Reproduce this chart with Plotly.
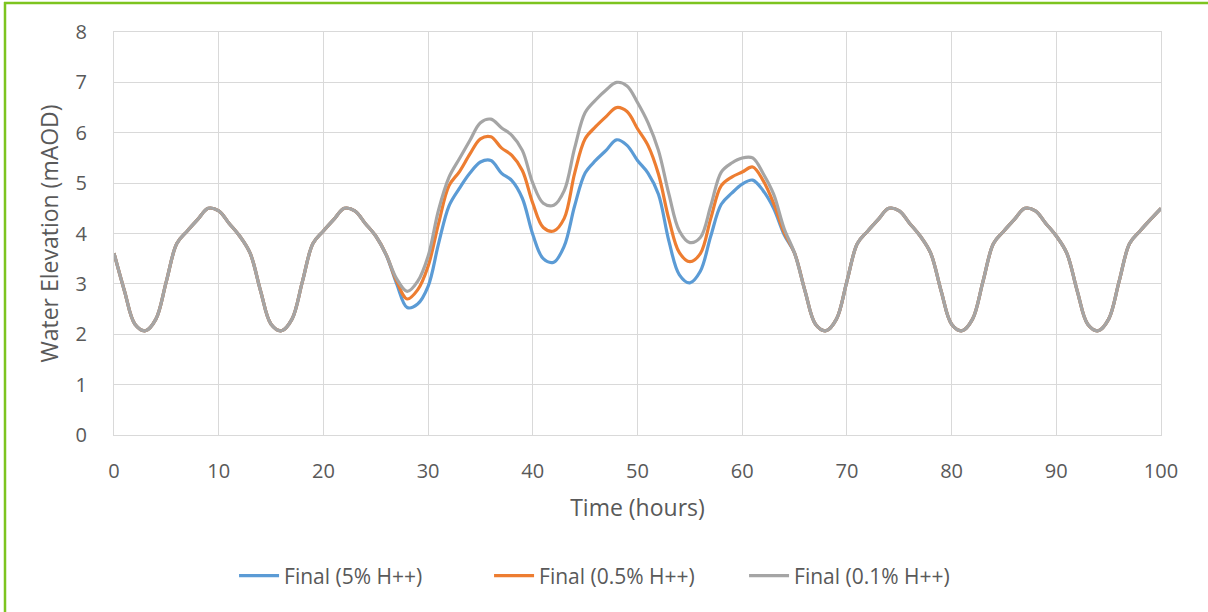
import plotly.graph_objects as go

hours = list(range(0, 101))

final_5 = [
    3.61, 2.86, 2.20, 2.07, 2.30, 3.05, 3.80, 4.05, 4.28, 4.50, 4.45, 4.20, 3.95,
    3.61, 2.86, 2.20, 2.07, 2.30, 3.05, 3.80, 4.05, 4.28, 4.50, 4.45, 4.20, 3.95,
    3.57, 3.00, 2.53, 2.60, 2.95, 3.80, 4.55, 4.90, 5.20, 5.42, 5.45, 5.20, 5.05,
    4.70, 3.98, 3.50, 3.43, 3.75, 4.55, 5.20, 5.45, 5.65, 5.86, 5.75, 5.45, 5.20,
    4.78, 3.85, 3.18, 3.02, 3.25, 3.95, 4.58, 4.80, 4.98, 5.06, 4.85, 4.50, 3.98,
    3.61, 2.86, 2.20, 2.07, 2.30, 3.05, 3.80, 4.05, 4.28, 4.50, 4.45, 4.20, 3.95,
    3.61, 2.86, 2.20, 2.07, 2.30, 3.05, 3.80, 4.05, 4.28, 4.50, 4.45, 4.20, 3.95,
    3.61, 2.86, 2.20, 2.07, 2.30, 3.05, 3.80, 4.05, 4.28, 4.50,
]

final_05 = [
    3.61, 2.86, 2.20, 2.07, 2.30, 3.05, 3.80, 4.05, 4.28, 4.50, 4.45, 4.20, 3.95,
    3.61, 2.86, 2.20, 2.07, 2.30, 3.05, 3.80, 4.05, 4.28, 4.50, 4.45, 4.20, 3.95,
    3.58, 3.05, 2.70, 2.88, 3.35, 4.20, 4.95, 5.23, 5.58, 5.88, 5.92, 5.70, 5.55,
    5.25, 4.60, 4.12, 4.05, 4.30, 5.20, 5.88, 6.12, 6.32, 6.50, 6.42, 6.08, 5.75,
    5.18, 4.28, 3.62, 3.44, 3.60, 4.30, 4.95, 5.12, 5.22, 5.32, 5.05, 4.60, 4.02,
    3.61, 2.86, 2.20, 2.07, 2.30, 3.05, 3.80, 4.05, 4.28, 4.50, 4.45, 4.20, 3.95,
    3.61, 2.86, 2.20, 2.07, 2.30, 3.05, 3.80, 4.05, 4.28, 4.50, 4.45, 4.20, 3.95,
    3.61, 2.86, 2.20, 2.07, 2.30, 3.05, 3.80, 4.05, 4.28, 4.50,
]

final_01 = [
    3.61, 2.86, 2.20, 2.07, 2.30, 3.05, 3.80, 4.05, 4.28, 4.50, 4.45, 4.20, 3.95,
    3.61, 2.86, 2.20, 2.07, 2.30, 3.05, 3.80, 4.05, 4.28, 4.50, 4.45, 4.20, 3.95,
    3.58, 3.10, 2.85, 3.05, 3.55, 4.47, 5.12, 5.49, 5.85, 6.20, 6.27, 6.10, 5.95,
    5.65, 5.00, 4.60, 4.56, 4.85, 5.70, 6.40, 6.65, 6.85, 7.00, 6.93, 6.60, 6.20,
    5.65, 4.78, 4.05, 3.82, 3.92, 4.55, 5.22, 5.40, 5.50, 5.50, 5.19, 4.78, 4.10,
    3.61, 2.86, 2.20, 2.07, 2.30, 3.05, 3.80, 4.05, 4.28, 4.50, 4.45, 4.20, 3.95,
    3.61, 2.86, 2.20, 2.07, 2.30, 3.05, 3.80, 4.05, 4.28, 4.50, 4.45, 4.20, 3.95,
    3.61, 2.86, 2.20, 2.07, 2.30, 3.05, 3.80, 4.05, 4.28, 4.50,
]

series_names = ["Final (5% H++)", "Final (0.5% H++)", "Final (0.1% H++)"]
series_values = [final_5, final_05, final_01]
series_colors = ["#5B9BD5", "#ED7D31", "#A5A5A5"]

x_ticks = [0, 10, 20, 30, 40, 50, 60, 70, 80, 90, 100]
y_ticks = [0, 1, 2, 3, 4, 5, 6, 7, 8]

fig = go.Figure()
for name, vals, col in zip(series_names, series_values, series_colors):
    fig.add_trace(go.Scatter(
        x=hours, y=vals, name=name, mode="lines",
        line=dict(color=col, width=3.2, shape="spline", smoothing=1.0),
    ))

grid = "#D9D9D9"
txt = "#595959"
font_family = "Open Sans"

fig.update_layout(
    width=1208, height=612,
    margin=dict(l=114, r=47, t=32, b=177),
    paper_bgcolor="white", plot_bgcolor="white",
    font=dict(family=font_family, color=txt),
    showlegend=True,
    legend=dict(
        orientation="h", x=0.48, xanchor="center", y=-0.35, yanchor="middle",
        font=dict(size=21, color=txt, family=font_family),
        itemwidth=40, entrywidth=200,
    ),
    xaxis=dict(
        range=[0, 100], tickvals=x_ticks, ticktext=[str(v) for v in x_ticks],
        showgrid=True, gridcolor=grid, gridwidth=1.3,
        showline=True, linecolor=grid, linewidth=1.3, mirror=True,
        zeroline=False, ticks="", ticklabelstandoff=18,
        tickfont=dict(size=20, color=txt),
        title=dict(text="Time (hours)", font=dict(size=23, color=txt), standoff=16),
    ),
    yaxis=dict(
        range=[0, 8], tickvals=y_ticks, ticktext=[str(v) for v in y_ticks],
        showgrid=True, gridcolor=grid, gridwidth=1.3,
        showline=True, linecolor=grid, linewidth=1.3, mirror=True,
        zeroline=False, ticks="", ticklabelstandoff=22,
        tickfont=dict(size=20, color=txt),
        title=dict(text="Water Elevation (mAOD)", font=dict(size=23, color=txt), standoff=10),
    ),
    shapes=[
        dict(type="line", xref="paper", yref="paper", xsizemode="pixel", ysizemode="pixel",
             xanchor=0, yanchor=1, x0=-109, x1=-109, y0=30, y1=-590,
             line=dict(color="#7DC41F", width=2.5)),
        dict(type="line", xref="paper", yref="paper", xsizemode="pixel", ysizemode="pixel",
             xanchor=0, yanchor=1, x0=-110, x1=1100, y0=29, y1=29,
             line=dict(color="#7DC41F", width=2.5)),
    ],
)

fig.write_html("out.html")
